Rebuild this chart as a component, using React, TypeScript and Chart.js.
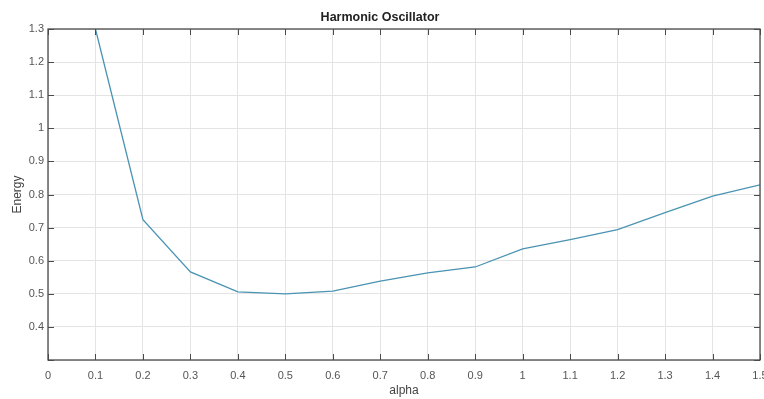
import React, { useEffect, useRef } from "react";
import { Chart, registerables } from "chart.js";

Chart.register(...registerables);

const alphaValues = [0.1, 0.2, 0.3, 0.4, 0.5, 0.6, 0.7, 0.8, 0.9, 1.0, 1.1, 1.2, 1.3, 1.4, 1.5];
const energyValues = [1.3, 0.724, 0.566, 0.506, 0.5, 0.508, 0.538, 0.563, 0.581, 0.636, 0.664, 0.694, 0.745, 0.795, 0.829];

const chartTitle = "Harmonic Oscillator";
const xTitle = "alpha";
const yTitle = "Energy";

const fmt = (v: number) => {
  const r = Math.round(v * 10) / 10;
  return String(r);
};

const boxPlugin = {
  id: "matlabBox",
  afterDraw(chart: any) {
    const { ctx, chartArea } = chart;
    const { left, right, top, bottom } = chartArea;
    const xs = chart.scales.x;
    const ys = chart.scales.y;
    const tl = 6;
    ctx.save();
    ctx.strokeStyle = "#4a4a4a";
    ctx.lineWidth = 1;
    ctx.beginPath();
    xs.ticks.forEach((t: any) => {
      const px = Math.round(xs.getPixelForValue(t.value)) + 0.5;
      ctx.moveTo(px, bottom);
      ctx.lineTo(px, bottom - tl);
      ctx.moveTo(px, top);
      ctx.lineTo(px, top + tl);
    });
    ys.ticks.forEach((t: any) => {
      const py = Math.round(ys.getPixelForValue(t.value)) + 0.5;
      ctx.moveTo(left, py);
      ctx.lineTo(left + tl, py);
      ctx.moveTo(right, py);
      ctx.lineTo(right - tl, py);
    });
    ctx.stroke();
    ctx.lineWidth = 1.3;
    ctx.strokeRect(left, top, right - left, bottom - top);
    ctx.restore();
  },
};

export default function App() {
  const ref = useRef<HTMLCanvasElement>(null);
  useEffect(() => {
    document.body.style.margin = "0";
    const chart = new Chart(ref.current!, {
      type: "line",
      data: {
        datasets: [
          {
            data: alphaValues.map((a, i) => ({ x: a, y: energyValues[i] })),
            borderColor: "#4a93b2",
            borderWidth: 1.3,
            pointRadius: 0,
            tension: 0,
            fill: false,
          },
        ],
      },
      options: {
        animation: false,
        responsive: false,
        maintainAspectRatio: false,
        layout: { padding: { left: 0, right: 4, top: 0, bottom: 0 } },
        plugins: {
          legend: { display: false },
          tooltip: { enabled: false },
          title: {
            display: true,
            text: chartTitle,
            color: "#222",
            font: { family: "Liberation Sans, Arial, sans-serif", size: 12.5, weight: "bold" },
            padding: { top: 10, bottom: 4 },
          },
        },
        scales: {
          x: {
            type: "linear",
            min: 0,
            max: 1.5,
            border: { display: false },
            grid: { color: "#e4e4e4", drawTicks: false, lineWidth: 1 },
            ticks: {
              stepSize: 0.1,
              color: "#555",
              padding: 9,
              autoSkip: false,
              maxRotation: 0,
              font: { family: "Liberation Sans, Arial, sans-serif", size: 11 },
              callback: (v: any) => fmt(Number(v)),
            },
            title: {
              display: true,
              text: xTitle,
              color: "#444",
              font: { family: "Liberation Sans, Arial, sans-serif", size: 12 },
              padding: { top: 0, bottom: 1 },
            },
            afterFit: (s: any) => {
              s.height = 39;
              s.paddingLeft = 0;
              s.paddingRight = 0;
            },
          },
          y: {
            type: "linear",
            min: 0.3,
            max: 1.3,
            border: { display: false },
            grid: { color: "#e4e4e4", drawTicks: false, lineWidth: 1 },
            ticks: {
              stepSize: 0.1,
              color: "#555",
              padding: 4,
              autoSkip: false,
              font: { family: "Liberation Sans, Arial, sans-serif", size: 11 },
              callback: (v: any) => {
                const n = Number(v);
                if (Math.abs(n - 0.3) < 1e-6) return "";
                return fmt(n);
              },
            },
            title: {
              display: true,
              text: yTitle,
              color: "#444",
              font: { family: "Liberation Sans, Arial, sans-serif", size: 12 },
              padding: { top: 10, bottom: 0 },
            },
            afterFit: (s: any) => {
              s.width = 48;
              s.paddingTop = 0;
              s.paddingBottom = 0;
            },
          },
        },
      },
      plugins: [boxPlugin],
    });
    return () => chart.destroy();
  }, []);
  return (
    <div style={{ position: "fixed", left: 0, top: 0, width: 764, height: 399, background: "#fff" }}>
      <canvas ref={ref} width={764} height={399} style={{ display: "block" }} />
    </div>
  );
}
